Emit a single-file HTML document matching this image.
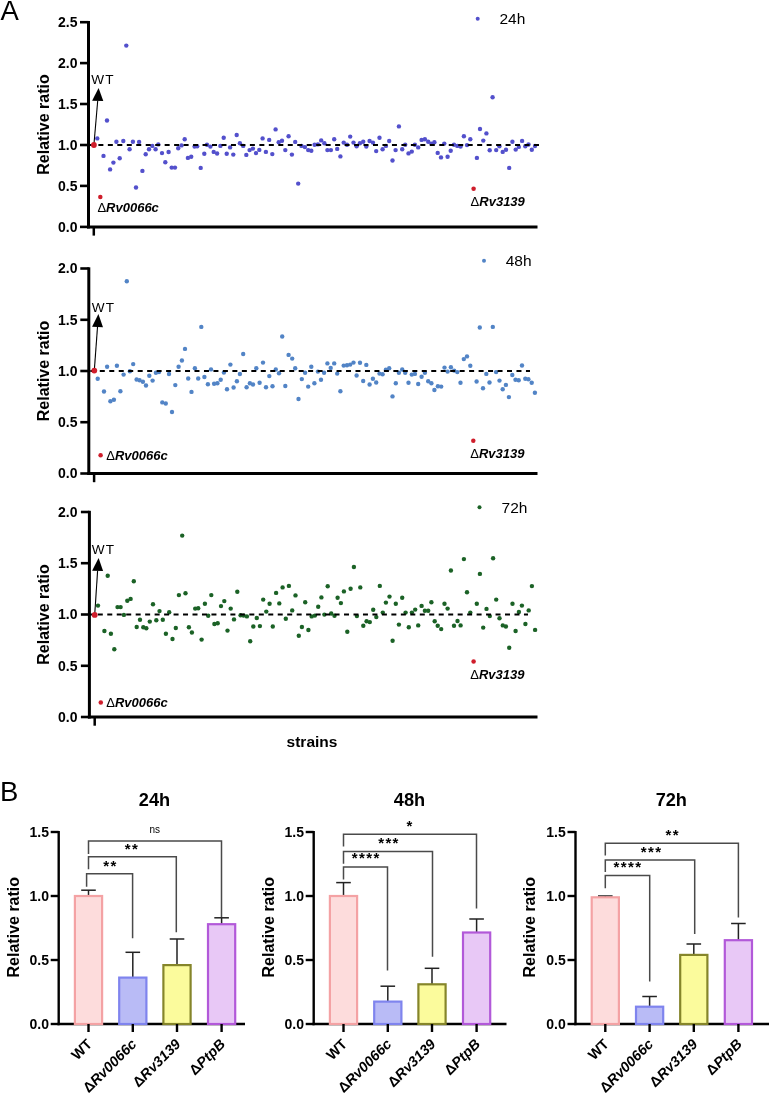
<!DOCTYPE html>
<html><head><meta charset="utf-8"><style>
html,body{margin:0;padding:0;background:#fff;}
body{width:769px;height:1094px;overflow:hidden;}
svg{display:block;font-family:"Liberation Sans", sans-serif;will-change:transform;}
</style></head><body>
<svg width="769" height="1094" viewBox="0 0 769 1094" font-family='"Liberation Sans", sans-serif'>
<rect width="769" height="1094" fill="#fff"/>
<text x="0.4" y="19.6" font-size="27.5" fill="#000">A</text>
<text transform="translate(48.5,124.5) rotate(-90)" text-anchor="middle" font-weight="bold" font-size="16">Relative ratio</text>
<line x1="88.5" y1="21.0" x2="88.5" y2="228.4" stroke="#000" stroke-width="3"/>
<line x1="87.0" y1="226.9" x2="537.5" y2="226.9" stroke="#000" stroke-width="3"/>
<line x1="93.8" y1="226.9" x2="93.8" y2="235.6" stroke="#000" stroke-width="2.5"/>
<line x1="80.0" y1="226.9" x2="88.5" y2="226.9" stroke="#000" stroke-width="2.6"/>
<text x="77.5" y="231.7" text-anchor="end" font-weight="bold" font-size="14">0.0</text>
<line x1="80.0" y1="185.9" x2="88.5" y2="185.9" stroke="#000" stroke-width="2.6"/>
<text x="77.5" y="190.8" text-anchor="end" font-weight="bold" font-size="14">0.5</text>
<line x1="80.0" y1="145.0" x2="88.5" y2="145.0" stroke="#000" stroke-width="2.6"/>
<text x="77.5" y="149.8" text-anchor="end" font-weight="bold" font-size="14">1.0</text>
<line x1="80.0" y1="104.0" x2="88.5" y2="104.0" stroke="#000" stroke-width="2.6"/>
<text x="77.5" y="108.8" text-anchor="end" font-weight="bold" font-size="14">1.5</text>
<line x1="80.0" y1="63.1" x2="88.5" y2="63.1" stroke="#000" stroke-width="2.6"/>
<text x="77.5" y="67.9" text-anchor="end" font-weight="bold" font-size="14">2.0</text>
<line x1="80.0" y1="22.2" x2="88.5" y2="22.2" stroke="#000" stroke-width="2.6"/>
<text x="77.5" y="27.0" text-anchor="end" font-weight="bold" font-size="14">2.5</text>
<g fill="#5350cc"><circle cx="97.3" cy="138.4" r="2.2"/><circle cx="103.5" cy="155.9" r="2.2"/><circle cx="107.0" cy="120.5" r="2.2"/><circle cx="110.1" cy="169.4" r="2.2"/><circle cx="113.4" cy="162.6" r="2.2"/><circle cx="116.4" cy="141.7" r="2.2"/><circle cx="119.7" cy="158.2" r="2.2"/><circle cx="123.3" cy="141.0" r="2.2"/><circle cx="126.3" cy="45.6" r="2.2"/><circle cx="129.6" cy="149.3" r="2.2"/><circle cx="132.9" cy="141.7" r="2.2"/><circle cx="136.0" cy="187.5" r="2.2"/><circle cx="139.1" cy="141.9" r="2.2"/><circle cx="142.4" cy="170.9" r="2.2"/><circle cx="145.7" cy="154.3" r="2.2"/><circle cx="149.0" cy="149.2" r="2.2"/><circle cx="152.3" cy="145.9" r="2.2"/><circle cx="155.6" cy="149.2" r="2.2"/><circle cx="158.3" cy="144.4" r="2.2"/><circle cx="162.0" cy="153.1" r="2.2"/><circle cx="165.3" cy="162.2" r="2.2"/><circle cx="168.6" cy="152.0" r="2.2"/><circle cx="171.7" cy="167.6" r="2.2"/><circle cx="175.0" cy="167.6" r="2.2"/><circle cx="178.2" cy="148.3" r="2.2"/><circle cx="181.5" cy="145.4" r="2.2"/><circle cx="184.7" cy="139.3" r="2.2"/><circle cx="187.9" cy="157.9" r="2.2"/><circle cx="191.2" cy="156.7" r="2.2"/><circle cx="194.6" cy="146.6" r="2.2"/><circle cx="197.2" cy="146.3" r="2.2"/><circle cx="200.7" cy="167.9" r="2.2"/><circle cx="204.3" cy="153.8" r="2.2"/><circle cx="207.0" cy="144.7" r="2.2"/><circle cx="210.4" cy="146.6" r="2.2"/><circle cx="213.7" cy="151.9" r="2.2"/><circle cx="217.1" cy="153.5" r="2.2"/><circle cx="220.4" cy="145.9" r="2.2"/><circle cx="223.7" cy="137.7" r="2.2"/><circle cx="226.7" cy="153.8" r="2.2"/><circle cx="230.1" cy="147.4" r="2.2"/><circle cx="233.3" cy="154.6" r="2.2"/><circle cx="236.7" cy="135.0" r="2.2"/><circle cx="239.9" cy="143.2" r="2.2"/><circle cx="243.2" cy="145.9" r="2.2"/><circle cx="246.3" cy="154.9" r="2.2"/><circle cx="249.6" cy="150.1" r="2.2"/><circle cx="252.9" cy="148.6" r="2.2"/><circle cx="256.0" cy="153.1" r="2.2"/><circle cx="259.3" cy="149.9" r="2.2"/><circle cx="262.6" cy="138.4" r="2.2"/><circle cx="265.9" cy="151.9" r="2.2"/><circle cx="269.2" cy="139.9" r="2.2"/><circle cx="272.3" cy="154.1" r="2.2"/><circle cx="275.6" cy="129.4" r="2.2"/><circle cx="278.7" cy="142.2" r="2.2"/><circle cx="282.0" cy="140.7" r="2.2"/><circle cx="285.3" cy="150.1" r="2.2"/><circle cx="288.6" cy="136.2" r="2.2"/><circle cx="291.9" cy="154.6" r="2.2"/><circle cx="295.2" cy="141.9" r="2.2"/><circle cx="298.2" cy="183.6" r="2.2"/><circle cx="301.5" cy="145.9" r="2.2"/><circle cx="304.9" cy="147.1" r="2.2"/><circle cx="308.2" cy="150.1" r="2.2"/><circle cx="311.3" cy="150.8" r="2.2"/><circle cx="314.6" cy="144.7" r="2.2"/><circle cx="317.9" cy="144.4" r="2.2"/><circle cx="321.2" cy="140.4" r="2.2"/><circle cx="324.4" cy="143.2" r="2.2"/><circle cx="327.4" cy="150.1" r="2.2"/><circle cx="330.9" cy="150.1" r="2.2"/><circle cx="334.2" cy="139.2" r="2.2"/><circle cx="337.2" cy="148.9" r="2.2"/><circle cx="340.4" cy="156.4" r="2.2"/><circle cx="343.7" cy="142.6" r="2.2"/><circle cx="347.0" cy="144.7" r="2.2"/><circle cx="350.2" cy="136.6" r="2.2"/><circle cx="353.5" cy="142.6" r="2.2"/><circle cx="356.6" cy="146.3" r="2.2"/><circle cx="359.9" cy="143.2" r="2.2"/><circle cx="363.2" cy="141.7" r="2.2"/><circle cx="366.3" cy="146.6" r="2.2"/><circle cx="369.6" cy="141.0" r="2.2"/><circle cx="372.9" cy="142.6" r="2.2"/><circle cx="376.2" cy="151.1" r="2.2"/><circle cx="379.5" cy="137.7" r="2.2"/><circle cx="382.6" cy="149.3" r="2.2"/><circle cx="385.9" cy="145.9" r="2.2"/><circle cx="389.2" cy="141.0" r="2.2"/><circle cx="392.5" cy="160.5" r="2.2"/><circle cx="395.6" cy="150.1" r="2.2"/><circle cx="398.9" cy="126.4" r="2.2"/><circle cx="402.2" cy="149.2" r="2.2"/><circle cx="405.2" cy="144.7" r="2.2"/><circle cx="408.5" cy="153.4" r="2.2"/><circle cx="411.8" cy="151.6" r="2.2"/><circle cx="414.9" cy="144.7" r="2.2"/><circle cx="418.2" cy="147.4" r="2.2"/><circle cx="421.6" cy="139.9" r="2.2"/><circle cx="424.9" cy="139.2" r="2.2"/><circle cx="428.2" cy="141.7" r="2.2"/><circle cx="431.4" cy="143.6" r="2.2"/><circle cx="434.4" cy="142.2" r="2.2"/><circle cx="437.7" cy="152.9" r="2.2"/><circle cx="441.0" cy="157.4" r="2.2"/><circle cx="444.3" cy="143.6" r="2.2"/><circle cx="447.6" cy="156.7" r="2.2"/><circle cx="450.7" cy="150.7" r="2.2"/><circle cx="454.0" cy="144.7" r="2.2"/><circle cx="457.3" cy="145.9" r="2.2"/><circle cx="460.6" cy="146.6" r="2.2"/><circle cx="463.9" cy="136.2" r="2.2"/><circle cx="467.0" cy="145.1" r="2.2"/><circle cx="470.3" cy="139.2" r="2.2"/><circle cx="476.9" cy="157.9" r="2.2"/><circle cx="480.0" cy="129.0" r="2.2"/><circle cx="483.3" cy="140.6" r="2.2"/><circle cx="486.4" cy="133.4" r="2.2"/><circle cx="489.7" cy="150.2" r="2.2"/><circle cx="492.6" cy="97.2" r="2.2"/><circle cx="496.2" cy="150.1" r="2.2"/><circle cx="499.4" cy="146.3" r="2.2"/><circle cx="502.7" cy="151.9" r="2.2"/><circle cx="506.0" cy="149.8" r="2.2"/><circle cx="509.2" cy="167.9" r="2.2"/><circle cx="512.4" cy="141.7" r="2.2"/><circle cx="515.7" cy="149.6" r="2.2"/><circle cx="518.8" cy="146.9" r="2.2"/><circle cx="522.1" cy="140.9" r="2.2"/><circle cx="525.3" cy="146.3" r="2.2"/><circle cx="528.5" cy="144.5" r="2.2"/><circle cx="531.8" cy="149.8" r="2.2"/><circle cx="535.0" cy="146.0" r="2.2"/></g>
<line x1="88.9" y1="145.0" x2="539" y2="145.0" stroke="#000" stroke-width="2.1" stroke-dasharray="5.0 4.47"/>
<circle cx="477.7" cy="18.7" r="2.0" fill="#5350cc"/>
<text x="499.5" y="23.9" font-size="15.5">24h</text>
<line x1="93.9" y1="145.0" x2="97.7" y2="100.8" stroke="#000" stroke-width="1.1"/>
<polygon points="98.6,87.9 92.1,100.7 103.3,100.9" fill="#000"/>
<circle cx="93.9" cy="145.0" r="2.9" fill="#cf1d2b"/>
<circle cx="100.3" cy="197.0" r="2.25" fill="#cf1d2b"/>
<circle cx="473.6" cy="188.8" r="2.25" fill="#cf1d2b"/>
<text x="91.2" y="84.2" font-size="13.6" letter-spacing="1.2">WT</text>
<text x="97.4" y="211.7" font-size="13" font-weight="bold"><tspan font-weight="normal">&#916;</tspan><tspan font-style="italic">Rv0066c</tspan></text>
<text x="470.6" y="205.7" font-size="13" font-weight="bold"><tspan font-weight="normal">&#916;</tspan><tspan font-style="italic">Rv3139</tspan></text>
<text transform="translate(48.5,371.0) rotate(-90)" text-anchor="middle" font-weight="bold" font-size="16">Relative ratio</text>
<line x1="88.8" y1="267.3" x2="88.8" y2="475.0" stroke="#000" stroke-width="3"/>
<line x1="87.3" y1="473.5" x2="537.5" y2="473.5" stroke="#000" stroke-width="3"/>
<line x1="94.1" y1="473.5" x2="94.1" y2="482.2" stroke="#000" stroke-width="2.5"/>
<line x1="80.3" y1="473.5" x2="88.8" y2="473.5" stroke="#000" stroke-width="2.6"/>
<text x="77.5" y="478.3" text-anchor="end" font-weight="bold" font-size="14">0.0</text>
<line x1="80.3" y1="422.2" x2="88.8" y2="422.2" stroke="#000" stroke-width="2.6"/>
<text x="77.5" y="427.1" text-anchor="end" font-weight="bold" font-size="14">0.5</text>
<line x1="80.3" y1="371.0" x2="88.8" y2="371.0" stroke="#000" stroke-width="2.6"/>
<text x="77.5" y="375.8" text-anchor="end" font-weight="bold" font-size="14">1.0</text>
<line x1="80.3" y1="319.8" x2="88.8" y2="319.8" stroke="#000" stroke-width="2.6"/>
<text x="77.5" y="324.6" text-anchor="end" font-weight="bold" font-size="14">1.5</text>
<line x1="80.3" y1="268.5" x2="88.8" y2="268.5" stroke="#000" stroke-width="2.6"/>
<text x="77.5" y="273.3" text-anchor="end" font-weight="bold" font-size="14">2.0</text>
<g fill="#5284c6"><circle cx="97.7" cy="378.8" r="2.2"/><circle cx="104.0" cy="391.5" r="2.2"/><circle cx="107.1" cy="366.8" r="2.2"/><circle cx="110.4" cy="401.2" r="2.2"/><circle cx="113.9" cy="399.7" r="2.2"/><circle cx="116.9" cy="365.8" r="2.2"/><circle cx="120.4" cy="391.2" r="2.2"/><circle cx="123.6" cy="374.6" r="2.2"/><circle cx="126.8" cy="281.3" r="2.2"/><circle cx="129.9" cy="371.3" r="2.2"/><circle cx="133.2" cy="364.1" r="2.2"/><circle cx="136.6" cy="379.5" r="2.2"/><circle cx="139.6" cy="380.3" r="2.2"/><circle cx="142.9" cy="381.8" r="2.2"/><circle cx="146.0" cy="385.5" r="2.2"/><circle cx="149.3" cy="375.8" r="2.2"/><circle cx="152.6" cy="380.6" r="2.2"/><circle cx="155.9" cy="372.8" r="2.2"/><circle cx="159.0" cy="372.1" r="2.2"/><circle cx="162.3" cy="402.4" r="2.2"/><circle cx="165.8" cy="403.5" r="2.2"/><circle cx="169.0" cy="374.0" r="2.2"/><circle cx="172.0" cy="412.0" r="2.2"/><circle cx="175.3" cy="385.1" r="2.2"/><circle cx="178.6" cy="366.8" r="2.2"/><circle cx="181.9" cy="360.5" r="2.2"/><circle cx="185.0" cy="348.9" r="2.2"/><circle cx="188.2" cy="378.5" r="2.2"/><circle cx="191.5" cy="391.9" r="2.2"/><circle cx="194.9" cy="368.3" r="2.2"/><circle cx="198.2" cy="378.5" r="2.2"/><circle cx="201.3" cy="326.9" r="2.2"/><circle cx="204.4" cy="377.0" r="2.2"/><circle cx="207.9" cy="384.3" r="2.2"/><circle cx="211.0" cy="369.4" r="2.2"/><circle cx="214.1" cy="383.7" r="2.2"/><circle cx="217.4" cy="383.3" r="2.2"/><circle cx="220.7" cy="379.8" r="2.2"/><circle cx="223.9" cy="372.5" r="2.2"/><circle cx="227.0" cy="389.3" r="2.2"/><circle cx="230.4" cy="364.6" r="2.2"/><circle cx="233.6" cy="387.5" r="2.2"/><circle cx="236.9" cy="381.2" r="2.2"/><circle cx="239.9" cy="374.0" r="2.2"/><circle cx="243.2" cy="354.0" r="2.2"/><circle cx="246.6" cy="387.3" r="2.2"/><circle cx="249.9" cy="383.3" r="2.2"/><circle cx="253.0" cy="384.5" r="2.2"/><circle cx="256.3" cy="368.3" r="2.2"/><circle cx="259.6" cy="382.8" r="2.2"/><circle cx="263.0" cy="362.6" r="2.2"/><circle cx="266.0" cy="387.3" r="2.2"/><circle cx="269.3" cy="376.1" r="2.2"/><circle cx="272.5" cy="386.3" r="2.2"/><circle cx="275.8" cy="369.5" r="2.2"/><circle cx="279.0" cy="373.3" r="2.2"/><circle cx="282.2" cy="336.5" r="2.2"/><circle cx="285.3" cy="386.0" r="2.2"/><circle cx="288.6" cy="354.9" r="2.2"/><circle cx="292.2" cy="358.6" r="2.2"/><circle cx="295.2" cy="368.3" r="2.2"/><circle cx="298.5" cy="399.0" r="2.2"/><circle cx="301.8" cy="379.1" r="2.2"/><circle cx="305.1" cy="372.8" r="2.2"/><circle cx="308.2" cy="386.6" r="2.2"/><circle cx="311.3" cy="366.8" r="2.2"/><circle cx="314.4" cy="383.3" r="2.2"/><circle cx="317.9" cy="371.6" r="2.2"/><circle cx="321.0" cy="379.8" r="2.2"/><circle cx="324.1" cy="372.8" r="2.2"/><circle cx="327.4" cy="363.4" r="2.2"/><circle cx="330.7" cy="367.9" r="2.2"/><circle cx="334.2" cy="363.4" r="2.2"/><circle cx="337.2" cy="373.6" r="2.2"/><circle cx="340.4" cy="391.2" r="2.2"/><circle cx="343.7" cy="365.6" r="2.2"/><circle cx="347.0" cy="365.3" r="2.2"/><circle cx="350.2" cy="364.6" r="2.2"/><circle cx="353.5" cy="362.6" r="2.2"/><circle cx="356.6" cy="375.5" r="2.2"/><circle cx="360.0" cy="362.8" r="2.2"/><circle cx="363.2" cy="381.0" r="2.2"/><circle cx="366.3" cy="364.9" r="2.2"/><circle cx="369.6" cy="384.5" r="2.2"/><circle cx="372.9" cy="378.8" r="2.2"/><circle cx="376.2" cy="382.5" r="2.2"/><circle cx="379.5" cy="373.6" r="2.2"/><circle cx="382.6" cy="374.3" r="2.2"/><circle cx="385.9" cy="369.8" r="2.2"/><circle cx="389.2" cy="368.3" r="2.2"/><circle cx="392.5" cy="396.4" r="2.2"/><circle cx="395.8" cy="383.3" r="2.2"/><circle cx="398.9" cy="372.8" r="2.2"/><circle cx="402.2" cy="369.5" r="2.2"/><circle cx="405.2" cy="372.8" r="2.2"/><circle cx="408.5" cy="382.8" r="2.2"/><circle cx="411.8" cy="374.6" r="2.2"/><circle cx="414.9" cy="373.9" r="2.2"/><circle cx="418.2" cy="384.0" r="2.2"/><circle cx="421.6" cy="376.8" r="2.2"/><circle cx="424.9" cy="372.8" r="2.2"/><circle cx="428.2" cy="381.3" r="2.2"/><circle cx="431.4" cy="383.3" r="2.2"/><circle cx="434.4" cy="390.0" r="2.2"/><circle cx="437.9" cy="386.3" r="2.2"/><circle cx="441.2" cy="386.6" r="2.2"/><circle cx="444.5" cy="367.6" r="2.2"/><circle cx="447.6" cy="371.6" r="2.2"/><circle cx="450.9" cy="367.3" r="2.2"/><circle cx="454.2" cy="370.6" r="2.2"/><circle cx="457.3" cy="372.1" r="2.2"/><circle cx="460.5" cy="382.8" r="2.2"/><circle cx="463.8" cy="359.1" r="2.2"/><circle cx="467.0" cy="356.4" r="2.2"/><circle cx="470.3" cy="365.8" r="2.2"/><circle cx="476.6" cy="381.5" r="2.2"/><circle cx="479.8" cy="327.5" r="2.2"/><circle cx="483.0" cy="388.2" r="2.2"/><circle cx="486.3" cy="373.9" r="2.2"/><circle cx="489.5" cy="382.5" r="2.2"/><circle cx="492.8" cy="326.9" r="2.2"/><circle cx="496.1" cy="372.1" r="2.2"/><circle cx="499.5" cy="380.6" r="2.2"/><circle cx="502.7" cy="389.2" r="2.2"/><circle cx="505.9" cy="384.9" r="2.2"/><circle cx="508.9" cy="397.1" r="2.2"/><circle cx="512.3" cy="375.0" r="2.2"/><circle cx="515.5" cy="379.8" r="2.2"/><circle cx="518.7" cy="380.3" r="2.2"/><circle cx="522.0" cy="365.5" r="2.2"/><circle cx="525.3" cy="378.7" r="2.2"/><circle cx="528.4" cy="379.3" r="2.2"/><circle cx="531.7" cy="382.8" r="2.2"/><circle cx="534.9" cy="392.8" r="2.2"/></g>
<line x1="90.33" y1="371.0" x2="530" y2="371.0" stroke="#000" stroke-width="2.1" stroke-dasharray="5.0 4.47"/>
<circle cx="484.0" cy="260.8" r="2.0" fill="#5284c6"/>
<text x="505.7" y="265.8" font-size="15.5">48h</text>
<line x1="94.3" y1="370.6" x2="97.5" y2="327.0" stroke="#000" stroke-width="1.1"/>
<polygon points="98.4,314.0 92.1,326.8 103.0,327.2" fill="#000"/>
<circle cx="94.3" cy="370.6" r="2.9" fill="#cf1d2b"/>
<circle cx="100.6" cy="455.2" r="2.25" fill="#cf1d2b"/>
<circle cx="473.3" cy="440.8" r="2.25" fill="#cf1d2b"/>
<text x="91.7" y="312.3" font-size="13.6" letter-spacing="1.2">WT</text>
<text x="106.3" y="459.8" font-size="13" font-weight="bold"><tspan font-weight="normal">&#916;</tspan><tspan font-style="italic">Rv0066c</tspan></text>
<text x="470.3" y="457.5" font-size="13" font-weight="bold"><tspan font-weight="normal">&#916;</tspan><tspan font-style="italic">Rv3139</tspan></text>
<text transform="translate(48.5,614.5) rotate(-90)" text-anchor="middle" font-weight="bold" font-size="16">Relative ratio</text>
<line x1="89.4" y1="510.8" x2="89.4" y2="718.5" stroke="#000" stroke-width="3"/>
<line x1="87.9" y1="717.0" x2="537.5" y2="717.0" stroke="#000" stroke-width="3"/>
<line x1="94.7" y1="717.0" x2="94.7" y2="725.7" stroke="#000" stroke-width="2.5"/>
<line x1="80.9" y1="717.0" x2="89.4" y2="717.0" stroke="#000" stroke-width="2.6"/>
<text x="77.5" y="721.8" text-anchor="end" font-weight="bold" font-size="14">0.0</text>
<line x1="80.9" y1="665.8" x2="89.4" y2="665.8" stroke="#000" stroke-width="2.6"/>
<text x="77.5" y="670.5" text-anchor="end" font-weight="bold" font-size="14">0.5</text>
<line x1="80.9" y1="614.5" x2="89.4" y2="614.5" stroke="#000" stroke-width="2.6"/>
<text x="77.5" y="619.3" text-anchor="end" font-weight="bold" font-size="14">1.0</text>
<line x1="80.9" y1="563.2" x2="89.4" y2="563.2" stroke="#000" stroke-width="2.6"/>
<text x="77.5" y="568.0" text-anchor="end" font-weight="bold" font-size="14">1.5</text>
<line x1="80.9" y1="512.0" x2="89.4" y2="512.0" stroke="#000" stroke-width="2.6"/>
<text x="77.5" y="516.8" text-anchor="end" font-weight="bold" font-size="14">2.0</text>
<g fill="#1b6226"><circle cx="98.0" cy="605.6" r="2.2"/><circle cx="104.4" cy="631.0" r="2.2"/><circle cx="107.7" cy="575.7" r="2.2"/><circle cx="110.9" cy="633.7" r="2.2"/><circle cx="114.3" cy="649.3" r="2.2"/><circle cx="117.5" cy="607.1" r="2.2"/><circle cx="120.6" cy="607.1" r="2.2"/><circle cx="123.9" cy="614.9" r="2.2"/><circle cx="127.3" cy="600.7" r="2.2"/><circle cx="130.6" cy="598.9" r="2.2"/><circle cx="133.8" cy="581.2" r="2.2"/><circle cx="136.7" cy="627.0" r="2.2"/><circle cx="140.0" cy="619.8" r="2.2"/><circle cx="143.3" cy="627.3" r="2.2"/><circle cx="146.3" cy="628.3" r="2.2"/><circle cx="149.8" cy="621.6" r="2.2"/><circle cx="153.0" cy="604.3" r="2.2"/><circle cx="156.3" cy="620.3" r="2.2"/><circle cx="159.5" cy="611.1" r="2.2"/><circle cx="162.8" cy="619.8" r="2.2"/><circle cx="165.9" cy="633.7" r="2.2"/><circle cx="169.2" cy="612.3" r="2.2"/><circle cx="172.5" cy="639.0" r="2.2"/><circle cx="175.8" cy="628.0" r="2.2"/><circle cx="178.9" cy="595.1" r="2.2"/><circle cx="182.2" cy="535.6" r="2.2"/><circle cx="185.5" cy="593.3" r="2.2"/><circle cx="188.9" cy="627.3" r="2.2"/><circle cx="191.9" cy="632.5" r="2.2"/><circle cx="195.2" cy="608.6" r="2.2"/><circle cx="198.2" cy="608.2" r="2.2"/><circle cx="201.6" cy="639.6" r="2.2"/><circle cx="204.9" cy="603.7" r="2.2"/><circle cx="208.2" cy="615.8" r="2.2"/><circle cx="211.3" cy="595.1" r="2.2"/><circle cx="214.4" cy="624.0" r="2.2"/><circle cx="217.7" cy="623.3" r="2.2"/><circle cx="221.0" cy="606.1" r="2.2"/><circle cx="224.3" cy="601.1" r="2.2"/><circle cx="227.5" cy="630.6" r="2.2"/><circle cx="230.7" cy="608.6" r="2.2"/><circle cx="234.0" cy="619.4" r="2.2"/><circle cx="237.3" cy="591.7" r="2.2"/><circle cx="240.6" cy="615.3" r="2.2"/><circle cx="243.6" cy="615.6" r="2.2"/><circle cx="246.9" cy="616.4" r="2.2"/><circle cx="250.2" cy="641.2" r="2.2"/><circle cx="253.3" cy="626.5" r="2.2"/><circle cx="256.8" cy="618.0" r="2.2"/><circle cx="259.9" cy="626.1" r="2.2"/><circle cx="263.2" cy="599.6" r="2.2"/><circle cx="266.3" cy="611.6" r="2.2"/><circle cx="269.6" cy="603.7" r="2.2"/><circle cx="272.8" cy="626.5" r="2.2"/><circle cx="276.1" cy="592.9" r="2.2"/><circle cx="279.3" cy="603.4" r="2.2"/><circle cx="282.6" cy="587.4" r="2.2"/><circle cx="285.8" cy="618.8" r="2.2"/><circle cx="288.9" cy="585.9" r="2.2"/><circle cx="292.2" cy="610.4" r="2.2"/><circle cx="295.5" cy="595.4" r="2.2"/><circle cx="298.8" cy="635.8" r="2.2"/><circle cx="301.9" cy="627.0" r="2.2"/><circle cx="305.2" cy="602.3" r="2.2"/><circle cx="308.4" cy="630.0" r="2.2"/><circle cx="311.7" cy="616.4" r="2.2"/><circle cx="314.9" cy="615.6" r="2.2"/><circle cx="318.2" cy="606.7" r="2.2"/><circle cx="321.4" cy="597.4" r="2.2"/><circle cx="324.4" cy="614.6" r="2.2"/><circle cx="327.7" cy="586.2" r="2.2"/><circle cx="331.2" cy="613.5" r="2.2"/><circle cx="334.5" cy="615.8" r="2.2"/><circle cx="337.6" cy="597.8" r="2.2"/><circle cx="340.9" cy="603.1" r="2.2"/><circle cx="343.9" cy="591.4" r="2.2"/><circle cx="347.3" cy="631.8" r="2.2"/><circle cx="350.6" cy="588.7" r="2.2"/><circle cx="353.9" cy="567.0" r="2.2"/><circle cx="356.9" cy="616.1" r="2.2"/><circle cx="360.3" cy="587.4" r="2.2"/><circle cx="363.3" cy="625.8" r="2.2"/><circle cx="366.6" cy="621.3" r="2.2"/><circle cx="369.8" cy="622.1" r="2.2"/><circle cx="373.2" cy="609.8" r="2.2"/><circle cx="376.3" cy="617.1" r="2.2"/><circle cx="379.8" cy="585.9" r="2.2"/><circle cx="382.8" cy="612.6" r="2.2"/><circle cx="385.9" cy="602.6" r="2.2"/><circle cx="389.5" cy="596.6" r="2.2"/><circle cx="392.6" cy="640.8" r="2.2"/><circle cx="395.8" cy="603.7" r="2.2"/><circle cx="398.9" cy="624.6" r="2.2"/><circle cx="402.2" cy="597.7" r="2.2"/><circle cx="405.6" cy="612.6" r="2.2"/><circle cx="408.8" cy="627.3" r="2.2"/><circle cx="411.9" cy="612.6" r="2.2"/><circle cx="415.2" cy="609.6" r="2.2"/><circle cx="418.2" cy="625.4" r="2.2"/><circle cx="421.6" cy="605.9" r="2.2"/><circle cx="424.9" cy="610.8" r="2.2"/><circle cx="428.2" cy="610.8" r="2.2"/><circle cx="431.4" cy="602.3" r="2.2"/><circle cx="434.7" cy="621.3" r="2.2"/><circle cx="437.7" cy="625.8" r="2.2"/><circle cx="441.2" cy="629.1" r="2.2"/><circle cx="444.5" cy="603.7" r="2.2"/><circle cx="447.6" cy="608.6" r="2.2"/><circle cx="450.9" cy="570.5" r="2.2"/><circle cx="454.0" cy="625.8" r="2.2"/><circle cx="457.5" cy="621.0" r="2.2"/><circle cx="460.6" cy="625.4" r="2.2"/><circle cx="463.9" cy="559.1" r="2.2"/><circle cx="467.0" cy="592.2" r="2.2"/><circle cx="470.3" cy="612.6" r="2.2"/><circle cx="476.8" cy="603.8" r="2.2"/><circle cx="479.9" cy="573.9" r="2.2"/><circle cx="483.2" cy="627.6" r="2.2"/><circle cx="486.5" cy="608.9" r="2.2"/><circle cx="489.8" cy="616.1" r="2.2"/><circle cx="493.1" cy="558.2" r="2.2"/><circle cx="496.2" cy="599.6" r="2.2"/><circle cx="499.5" cy="618.3" r="2.2"/><circle cx="502.8" cy="625.4" r="2.2"/><circle cx="505.9" cy="626.5" r="2.2"/><circle cx="509.2" cy="647.8" r="2.2"/><circle cx="512.5" cy="603.7" r="2.2"/><circle cx="515.6" cy="631.0" r="2.2"/><circle cx="518.9" cy="612.0" r="2.2"/><circle cx="521.9" cy="605.6" r="2.2"/><circle cx="525.4" cy="624.0" r="2.2"/><circle cx="528.7" cy="610.4" r="2.2"/><circle cx="531.9" cy="586.1" r="2.2"/><circle cx="535.1" cy="629.9" r="2.2"/></g>
<line x1="88.33" y1="614.5" x2="528" y2="614.5" stroke="#000" stroke-width="2.1" stroke-dasharray="5.0 4.47"/>
<circle cx="479.5" cy="507.2" r="2.0" fill="#1b6226"/>
<text x="501.6" y="512.6" font-size="15.5">72h</text>
<line x1="94.7" y1="614.9" x2="97.6" y2="570.8" stroke="#000" stroke-width="1.1"/>
<polygon points="98.6,557.9 92.1,570.7 103.1,570.9" fill="#000"/>
<circle cx="94.7" cy="614.9" r="2.9" fill="#cf1d2b"/>
<circle cx="100.8" cy="702.6" r="2.25" fill="#cf1d2b"/>
<circle cx="473.6" cy="661.5" r="2.25" fill="#cf1d2b"/>
<text x="91.7" y="553.8" font-size="13.6" letter-spacing="1.2">WT</text>
<text x="106.3" y="707.2" font-size="13" font-weight="bold"><tspan font-weight="normal">&#916;</tspan><tspan font-style="italic">Rv0066c</tspan></text>
<text x="470.3" y="678.6" font-size="13" font-weight="bold"><tspan font-weight="normal">&#916;</tspan><tspan font-style="italic">Rv3139</tspan></text>
<text x="312" y="747.3" text-anchor="middle" font-weight="bold" font-size="15.5">strains</text>
<text x="0" y="800.9" font-size="27.5">B</text>
<text x="154.5" y="806" text-anchor="middle" font-weight="bold" font-size="18.2">24h</text>
<text transform="translate(18.5,927.2) rotate(-90)" text-anchor="middle" font-weight="bold" font-size="16">Relative ratio</text>
<line x1="58.7" y1="831.0" x2="58.7" y2="1025.2" stroke="#000" stroke-width="2.4"/>
<line x1="57.5" y1="1024.0" x2="245.0" y2="1024.0" stroke="#000" stroke-width="2.6"/>
<line x1="50.7" y1="1024.0" x2="58.7" y2="1024.0" stroke="#000" stroke-width="2.4"/>
<text x="49.0" y="1028.8" text-anchor="end" font-weight="bold" font-size="14">0.0</text>
<line x1="50.7" y1="960.0" x2="58.7" y2="960.0" stroke="#000" stroke-width="2.4"/>
<text x="49.0" y="964.8" text-anchor="end" font-weight="bold" font-size="14">0.5</text>
<line x1="50.7" y1="896.0" x2="58.7" y2="896.0" stroke="#000" stroke-width="2.4"/>
<text x="49.0" y="900.8" text-anchor="end" font-weight="bold" font-size="14">1.0</text>
<line x1="50.7" y1="832.0" x2="58.7" y2="832.0" stroke="#000" stroke-width="2.4"/>
<text x="49.0" y="836.8" text-anchor="end" font-weight="bold" font-size="14">1.5</text>
<line x1="88.5" y1="890.2" x2="88.5" y2="896.0" stroke="#222" stroke-width="1.5"/>
<line x1="81.2" y1="890.2" x2="95.8" y2="890.2" stroke="#222" stroke-width="1.5"/>
<rect x="74.9" y="896.0" width="27.2" height="128.0" fill="#fddcdc" stroke="#f4a2a4" stroke-width="2.2"/>
<line x1="88.5" y1="1024.0" x2="88.5" y2="1032.0" stroke="#000" stroke-width="2.4"/>
<line x1="132.8" y1="952.3" x2="132.8" y2="977.6" stroke="#222" stroke-width="1.5"/>
<line x1="125.5" y1="952.3" x2="140.1" y2="952.3" stroke="#222" stroke-width="1.5"/>
<rect x="119.2" y="977.6" width="27.2" height="46.4" fill="#b9bbf6" stroke="#7f84ee" stroke-width="2.2"/>
<line x1="132.8" y1="1024.0" x2="132.8" y2="1032.0" stroke="#000" stroke-width="2.4"/>
<line x1="177.0" y1="939.0" x2="177.0" y2="965.1" stroke="#222" stroke-width="1.5"/>
<line x1="169.7" y1="939.0" x2="184.3" y2="939.0" stroke="#222" stroke-width="1.5"/>
<rect x="163.4" y="965.1" width="27.2" height="58.9" fill="#fbfb9c" stroke="#85852a" stroke-width="2.2"/>
<line x1="177.0" y1="1024.0" x2="177.0" y2="1032.0" stroke="#000" stroke-width="2.4"/>
<line x1="221.6" y1="917.8" x2="221.6" y2="924.2" stroke="#222" stroke-width="1.5"/>
<line x1="214.3" y1="917.8" x2="228.9" y2="917.8" stroke="#222" stroke-width="1.5"/>
<rect x="208.0" y="924.2" width="27.2" height="99.8" fill="#e8c8f6" stroke="#b259d9" stroke-width="2.2"/>
<line x1="221.6" y1="1024.0" x2="221.6" y2="1032.0" stroke="#000" stroke-width="2.4"/>
<polyline points="88.5,853.9 88.5,841.1 221.5,841.1 221.5,917.1" fill="none" stroke="#4a4a4a" stroke-width="1.5"/>
<text x="154.8" y="833" text-anchor="middle" font-size="10">ns</text>
<polyline points="88.5,869.2 88.5,856.8 176.3,856.8 176.3,932.2" fill="none" stroke="#4a4a4a" stroke-width="1.5"/>
<text x="132.1" y="853.5" text-anchor="middle" font-weight="bold" font-size="15" letter-spacing="1.4">**</text>
<polyline points="86.6,886.7 86.6,873.8 132.6,873.8 132.6,938.2" fill="none" stroke="#4a4a4a" stroke-width="1.5"/>
<text x="110.6" y="870.5" text-anchor="middle" font-weight="bold" font-size="15" letter-spacing="1.4">**</text>
<text transform="translate(93.0,1045) rotate(-45)" text-anchor="end" font-weight="bold" font-size="14.4">WT</text>
<text transform="translate(137.3,1045) rotate(-45)" text-anchor="end" font-weight="bold" font-size="14.4"><tspan>&#916;</tspan><tspan font-style="italic">Rv0066c</tspan></text>
<text transform="translate(181.5,1045) rotate(-45)" text-anchor="end" font-weight="bold" font-size="14.4"><tspan>&#916;</tspan><tspan font-style="italic">Rv3139</tspan></text>
<text transform="translate(226.1,1045) rotate(-45)" text-anchor="end" font-weight="bold" font-size="14.4"><tspan>&#916;</tspan><tspan font-style="italic">PtpB</tspan></text>
<text x="409.5" y="806" text-anchor="middle" font-weight="bold" font-size="18.2">48h</text>
<text transform="translate(273.5,927.2) rotate(-90)" text-anchor="middle" font-weight="bold" font-size="16">Relative ratio</text>
<line x1="313.7" y1="831.0" x2="313.7" y2="1025.2" stroke="#000" stroke-width="2.4"/>
<line x1="312.5" y1="1024.0" x2="506.5" y2="1024.0" stroke="#000" stroke-width="2.6"/>
<line x1="305.7" y1="1024.0" x2="313.7" y2="1024.0" stroke="#000" stroke-width="2.4"/>
<text x="304.0" y="1028.8" text-anchor="end" font-weight="bold" font-size="14">0.0</text>
<line x1="305.7" y1="960.0" x2="313.7" y2="960.0" stroke="#000" stroke-width="2.4"/>
<text x="304.0" y="964.8" text-anchor="end" font-weight="bold" font-size="14">0.5</text>
<line x1="305.7" y1="896.0" x2="313.7" y2="896.0" stroke="#000" stroke-width="2.4"/>
<text x="304.0" y="900.8" text-anchor="end" font-weight="bold" font-size="14">1.0</text>
<line x1="305.7" y1="832.0" x2="313.7" y2="832.0" stroke="#000" stroke-width="2.4"/>
<text x="304.0" y="836.8" text-anchor="end" font-weight="bold" font-size="14">1.5</text>
<line x1="343.5" y1="882.6" x2="343.5" y2="896.0" stroke="#222" stroke-width="1.5"/>
<line x1="336.2" y1="882.6" x2="350.8" y2="882.6" stroke="#222" stroke-width="1.5"/>
<rect x="329.9" y="896.0" width="27.2" height="128.0" fill="#fddcdc" stroke="#f4a2a4" stroke-width="2.2"/>
<line x1="343.5" y1="1024.0" x2="343.5" y2="1032.0" stroke="#000" stroke-width="2.4"/>
<line x1="387.8" y1="986.2" x2="387.8" y2="1001.6" stroke="#222" stroke-width="1.5"/>
<line x1="380.5" y1="986.2" x2="395.1" y2="986.2" stroke="#222" stroke-width="1.5"/>
<rect x="374.2" y="1001.6" width="27.2" height="22.4" fill="#b9bbf6" stroke="#7f84ee" stroke-width="2.2"/>
<line x1="387.8" y1="1024.0" x2="387.8" y2="1032.0" stroke="#000" stroke-width="2.4"/>
<line x1="432.0" y1="968.3" x2="432.0" y2="984.3" stroke="#222" stroke-width="1.5"/>
<line x1="424.7" y1="968.3" x2="439.3" y2="968.3" stroke="#222" stroke-width="1.5"/>
<rect x="418.4" y="984.3" width="27.2" height="39.7" fill="#fbfb9c" stroke="#85852a" stroke-width="2.2"/>
<line x1="432.0" y1="1024.0" x2="432.0" y2="1032.0" stroke="#000" stroke-width="2.4"/>
<line x1="476.6" y1="919.0" x2="476.6" y2="932.5" stroke="#222" stroke-width="1.5"/>
<line x1="469.3" y1="919.0" x2="483.9" y2="919.0" stroke="#222" stroke-width="1.5"/>
<rect x="463.0" y="932.5" width="27.2" height="91.5" fill="#e8c8f6" stroke="#b259d9" stroke-width="2.2"/>
<line x1="476.6" y1="1024.0" x2="476.6" y2="1032.0" stroke="#000" stroke-width="2.4"/>
<polyline points="343.5,846.5 343.5,834.2 476.5,834.2 476.5,908.5" fill="none" stroke="#4a4a4a" stroke-width="1.5"/>
<text x="410.0" y="830.5" text-anchor="middle" font-weight="bold" font-size="15" letter-spacing="1.4">*</text>
<polyline points="343.5,863.7 343.5,851.4 432.5,851.4 432.5,956.8" fill="none" stroke="#4a4a4a" stroke-width="1.5"/>
<text x="389.0" y="847.8" text-anchor="middle" font-weight="bold" font-size="15" letter-spacing="1.4">***</text>
<polyline points="343.5,879.5 343.5,867.0 387.5,867.0 387.5,970.5" fill="none" stroke="#4a4a4a" stroke-width="1.5"/>
<text x="366.3" y="863.4" text-anchor="middle" font-weight="bold" font-size="15" letter-spacing="1.4">****</text>
<text transform="translate(348.0,1045) rotate(-45)" text-anchor="end" font-weight="bold" font-size="14.4">WT</text>
<text transform="translate(392.3,1045) rotate(-45)" text-anchor="end" font-weight="bold" font-size="14.4"><tspan>&#916;</tspan><tspan font-style="italic">Rv0066c</tspan></text>
<text transform="translate(436.5,1045) rotate(-45)" text-anchor="end" font-weight="bold" font-size="14.4"><tspan>&#916;</tspan><tspan font-style="italic">Rv3139</tspan></text>
<text transform="translate(481.1,1045) rotate(-45)" text-anchor="end" font-weight="bold" font-size="14.4"><tspan>&#916;</tspan><tspan font-style="italic">PtpB</tspan></text>
<text x="671.3" y="806" text-anchor="middle" font-weight="bold" font-size="18.2">72h</text>
<text transform="translate(535.3,927.2) rotate(-90)" text-anchor="middle" font-weight="bold" font-size="16">Relative ratio</text>
<line x1="575.5" y1="831.0" x2="575.5" y2="1025.2" stroke="#000" stroke-width="2.4"/>
<line x1="574.3" y1="1024.0" x2="769.0" y2="1024.0" stroke="#000" stroke-width="2.6"/>
<line x1="567.5" y1="1024.0" x2="575.5" y2="1024.0" stroke="#000" stroke-width="2.4"/>
<text x="565.8" y="1028.8" text-anchor="end" font-weight="bold" font-size="14">0.0</text>
<line x1="567.5" y1="960.0" x2="575.5" y2="960.0" stroke="#000" stroke-width="2.4"/>
<text x="565.8" y="964.8" text-anchor="end" font-weight="bold" font-size="14">0.5</text>
<line x1="567.5" y1="896.0" x2="575.5" y2="896.0" stroke="#000" stroke-width="2.4"/>
<text x="565.8" y="900.8" text-anchor="end" font-weight="bold" font-size="14">1.0</text>
<line x1="567.5" y1="832.0" x2="575.5" y2="832.0" stroke="#000" stroke-width="2.4"/>
<text x="565.8" y="836.8" text-anchor="end" font-weight="bold" font-size="14">1.5</text>
<line x1="605.3" y1="896.0" x2="605.3" y2="897.3" stroke="#222" stroke-width="1.5"/>
<line x1="598.0" y1="896.0" x2="612.6" y2="896.0" stroke="#222" stroke-width="1.5"/>
<rect x="591.7" y="897.3" width="27.2" height="126.7" fill="#fddcdc" stroke="#f4a2a4" stroke-width="2.2"/>
<line x1="605.3" y1="1024.0" x2="605.3" y2="1032.0" stroke="#000" stroke-width="2.4"/>
<line x1="649.6" y1="996.5" x2="649.6" y2="1006.7" stroke="#222" stroke-width="1.5"/>
<line x1="642.3" y1="996.5" x2="656.9" y2="996.5" stroke="#222" stroke-width="1.5"/>
<rect x="636.0" y="1006.7" width="27.2" height="17.3" fill="#b9bbf6" stroke="#7f84ee" stroke-width="2.2"/>
<line x1="649.6" y1="1024.0" x2="649.6" y2="1032.0" stroke="#000" stroke-width="2.4"/>
<line x1="693.8" y1="944.0" x2="693.8" y2="954.9" stroke="#222" stroke-width="1.5"/>
<line x1="686.5" y1="944.0" x2="701.1" y2="944.0" stroke="#222" stroke-width="1.5"/>
<rect x="680.2" y="954.9" width="27.2" height="69.1" fill="#fbfb9c" stroke="#85852a" stroke-width="2.2"/>
<line x1="693.8" y1="1024.0" x2="693.8" y2="1032.0" stroke="#000" stroke-width="2.4"/>
<line x1="738.4" y1="923.5" x2="738.4" y2="940.2" stroke="#222" stroke-width="1.5"/>
<line x1="731.1" y1="923.5" x2="745.7" y2="923.5" stroke="#222" stroke-width="1.5"/>
<rect x="724.8" y="940.2" width="27.2" height="83.8" fill="#e8c8f6" stroke="#b259d9" stroke-width="2.2"/>
<line x1="738.4" y1="1024.0" x2="738.4" y2="1032.0" stroke="#000" stroke-width="2.4"/>
<polyline points="605.3,855.5 605.3,843.2 738.4,843.2 738.4,917.5" fill="none" stroke="#4a4a4a" stroke-width="1.5"/>
<text x="672.8" y="839.6" text-anchor="middle" font-weight="bold" font-size="15" letter-spacing="1.4">**</text>
<polyline points="605.3,871.9 605.3,860.1 694.7,860.1 694.7,934.0" fill="none" stroke="#4a4a4a" stroke-width="1.5"/>
<text x="651.7" y="856.5" text-anchor="middle" font-weight="bold" font-size="15" letter-spacing="1.4">***</text>
<polyline points="605.3,888.3 605.3,875.4 649.7,875.4 649.7,981.5" fill="none" stroke="#4a4a4a" stroke-width="1.5"/>
<text x="628.0" y="872.0" text-anchor="middle" font-weight="bold" font-size="15" letter-spacing="1.4">****</text>
<text transform="translate(609.8,1045) rotate(-45)" text-anchor="end" font-weight="bold" font-size="14.4">WT</text>
<text transform="translate(654.1,1045) rotate(-45)" text-anchor="end" font-weight="bold" font-size="14.4"><tspan>&#916;</tspan><tspan font-style="italic">Rv0066c</tspan></text>
<text transform="translate(698.3,1045) rotate(-45)" text-anchor="end" font-weight="bold" font-size="14.4"><tspan>&#916;</tspan><tspan font-style="italic">Rv3139</tspan></text>
<text transform="translate(742.9,1045) rotate(-45)" text-anchor="end" font-weight="bold" font-size="14.4"><tspan>&#916;</tspan><tspan font-style="italic">PtpB</tspan></text>
</svg>
</body></html>
